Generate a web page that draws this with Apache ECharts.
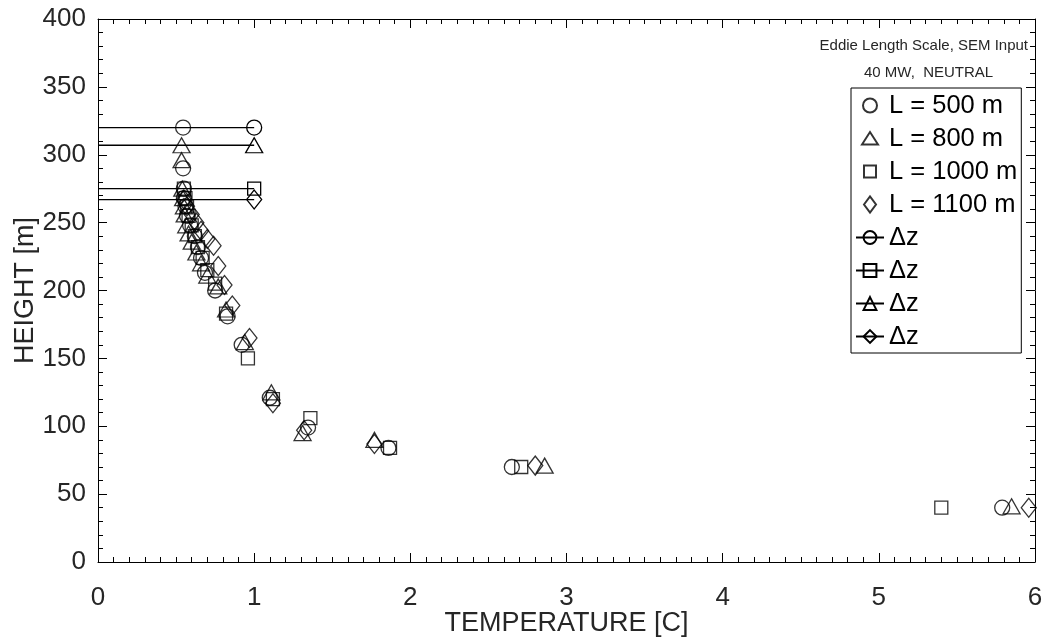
<!DOCTYPE html>
<html>
<head>
<meta charset="utf-8">
<script src="https://cdn.jsdelivr.net/npm/echarts@6/dist/echarts.min.js"></script>
<style>
  html, body { margin: 0; padding: 0; background: #fff; }
  #chart { width: 1047px; height: 642px; }
</style>
</head>
<body>
<div id="chart"></div>
<script>
// Temperature excess [C] vs height [m] profiles for four eddy length scales
const l500 = [[0.545, 320], [0.545, 290], [0.55, 275], [0.55, 268], [0.56, 262], [0.57, 255], [0.59, 248],
  [0.62, 240], [0.64, 232], [0.66, 224], [0.685, 213], [0.75, 200], [0.83, 181], [0.92, 160],
  [1.10, 121], [1.345, 99], [1.86, 84], [2.65, 70], [5.79, 40]];
const l800 = [[0.535, 307], [0.535, 296], [0.54, 275], [0.545, 268], [0.55, 262], [0.555, 256], [0.565, 248],
  [0.58, 242], [0.60, 236], [0.63, 228], [0.66, 220], [0.70, 211], [0.77, 203], [0.82, 186], [0.94, 162],
  [1.11, 125], [1.31, 95], [1.77, 90], [2.86, 71], [5.85, 41]];
const l1000 = [[0.55, 275], [0.56, 268], [0.57, 262], [0.58, 255], [0.60, 248], [0.62, 240], [0.64, 232],
  [0.67, 224], [0.70, 215], [0.75, 205], [0.82, 183], [0.96, 150], [1.12, 120], [1.36, 106],
  [1.87, 84], [2.71, 70], [5.40, 40]];
const l1100 = [[0.55, 267], [0.57, 262], [0.60, 256], [0.63, 250], [0.66, 244], [0.70, 238], [0.74, 233],
  [0.77, 218], [0.81, 204], [0.86, 189], [0.97, 165], [1.12, 117], [1.32, 97], [1.77, 87],
  [2.80, 71], [5.96, 40]];

// Δz reference heights, drawn as horizontal segments from T = 0 to T = dzEnd
const dzHeights = [320, 275, 307, 267];   // circle, square, triangle, diamond
const dzEnd = 1;

const seriesNames = ['L = 500 m', 'L = 800 m', 'L = 1000 m', 'L = 1100 m'];
const dzNames = ['dz-500', 'dz-1000', 'dz-800', 'dz-1100'];

const INK = '#000';
const TXT = '#262626';
const FONT = 'Liberation Sans, Arial, Helvetica, sans-serif';

const shapes = {
  circle:  { symbol: 'circle',   size: 15 },
  triangle:{ symbol: 'triangle', size: [17, 15] },
  square:  { symbol: 'rect',     size: 13 },
  diamond: { symbol: 'diamond',  size: [15, 19] }
};

// Legend glyphs for the marker-only entries: each path carries a 16x16 frame
// (the two leading moveTo points) so the glyph keeps its own size and aspect.
const legendGlyphs = {
  circle:   'path://M0,0 M16,16 M15,8 A7,7 0 1 1 1,8 A7,7 0 1 1 15,8 Z',
  triangle: 'path://M0,0 M16,16 M0,14 L8,1.5 L16,14 Z',
  square:   'path://M0,0 M16,16 M2,2 L14,2 L14,14 L2,14 Z',
  diamond:  'path://M0,0 M16,16 M2,8 L8,0 L14,8 L8,16 Z'
};

const hollow = { color: 'rgba(0,0,0,0)', borderColor: INK, borderWidth: 1.3 };

function scatter(name, data, shape) {
  return {
    name, type: 'scatter', data,
    symbol: shapes[shape].symbol, symbolSize: shapes[shape].size,
    itemStyle: hollow, silent: true, z: 3
  };
}

function dzLine(name, h, shape) {
  return {
    name, type: 'line',
    data: [{ value: [0, h], symbol: 'none' }, { value: [dzEnd, h] }],
    symbol: shapes[shape].symbol, symbolSize: shapes[shape].size,
    itemStyle: hollow,
    lineStyle: { color: INK, width: 1.3 },
    showAllSymbol: true, silent: true, z: 2, animation: false
  };
}

const tickStyle = { color: INK, width: 1 };

const chart = echarts.init(document.getElementById('chart'), null, { renderer: 'canvas' });
chart.setOption({
  animation: false,
  backgroundColor: '#fff',
  textStyle: { fontFamily: FONT },
  grid: { left: 98, right: 12, top: 19, bottom: 80, containLabel: false, outerBoundsMode: 'none' },
  title: [
    { text: 'Eddie Length Scale, SEM Input', right: 14, top: 33,
      textStyle: { fontFamily: FONT, fontSize: 15, fontWeight: 'normal', color: TXT } },
    { text: '40 MW,  NEUTRAL', left: 859, top: 60,
      textStyle: { fontFamily: FONT, fontSize: 15, fontWeight: 'normal', color: TXT } }
  ],
  legend: {
    orient: 'vertical', left: 851, top: 88,
    padding: [1, 4, 0, 4],
    itemGap: 0,
    itemWidth: 28, itemHeight: 16,
    backgroundColor: '#fff',
    borderColor: INK, borderWidth: 1,
    data: [
      { name: seriesNames[0], icon: legendGlyphs.circle },
      { name: seriesNames[1], icon: legendGlyphs.triangle },
      { name: seriesNames[2], icon: legendGlyphs.square },
      { name: seriesNames[3], icon: legendGlyphs.diamond },
      ...dzNames
    ],
    formatter: n => (n.startsWith('dz') ? 'Δz' : n),
    textStyle: { fontFamily: FONT, fontSize: 25.5, lineHeight: 33, color: '#000' }
  },
  xAxis: [{
    type: 'value', min: 0, max: 6, interval: 1,
    name: 'TEMPERATURE [C]', nameLocation: 'middle', nameGap: 48, nameMoveOverlap: false,
    nameTextStyle: { fontFamily: FONT, fontSize: 27, color: TXT },
    axisLine: { show: true, onZero: false, lineStyle: tickStyle },
    axisTick: { show: true, inside: true, length: 9, lineStyle: tickStyle },
    minorTick: { show: true, splitNumber: 10, length: 5, lineStyle: tickStyle },
    axisLabel: { fontFamily: FONT, fontSize: 26, color: TXT, margin: 23 },
    splitLine: { show: false }
  }, {
    type: 'value', min: 0, max: 6, interval: 1, position: 'top',
    axisLine: { show: true, onZero: false, lineStyle: tickStyle },
    axisTick: { show: true, inside: true, length: 9, lineStyle: tickStyle },
    minorTick: { show: true, splitNumber: 10, length: 5, lineStyle: tickStyle },
    axisLabel: { show: false }, splitLine: { show: false }
  }],
  yAxis: [{
    type: 'value', min: 0, max: 400, interval: 50,
    name: 'HEIGHT [m]', nameLocation: 'middle', nameGap: 59, nameRotate: 90, nameMoveOverlap: false,
    nameTextStyle: { fontFamily: FONT, fontSize: 27, color: TXT },
    axisLine: { show: true, onZero: false, lineStyle: tickStyle },
    axisTick: { show: true, inside: true, length: 9, lineStyle: tickStyle },
    minorTick: { show: true, splitNumber: 5, length: 5, lineStyle: tickStyle },
    axisLabel: { fontFamily: FONT, fontSize: 26, color: TXT, margin: 12 },
    splitLine: { show: false }
  }, {
    type: 'value', min: 0, max: 400, interval: 50, position: 'right',
    axisLine: { show: true, onZero: false, lineStyle: tickStyle },
    axisTick: { show: true, inside: true, length: 9, lineStyle: tickStyle },
    minorTick: { show: true, splitNumber: 5, length: 5, lineStyle: tickStyle },
    axisLabel: { show: false }, splitLine: { show: false }
  }],
  series: [
    scatter(seriesNames[0], l500, 'circle'),
    scatter(seriesNames[1], l800, 'triangle'),
    scatter(seriesNames[2], l1000, 'square'),
    scatter(seriesNames[3], l1100, 'diamond'),
    dzLine(dzNames[0], dzHeights[0], 'circle'),
    dzLine(dzNames[1], dzHeights[1], 'square'),
    dzLine(dzNames[2], dzHeights[2], 'triangle'),
    dzLine(dzNames[3], dzHeights[3], 'diamond')
  ]
});
</script>
</body>
</html>
